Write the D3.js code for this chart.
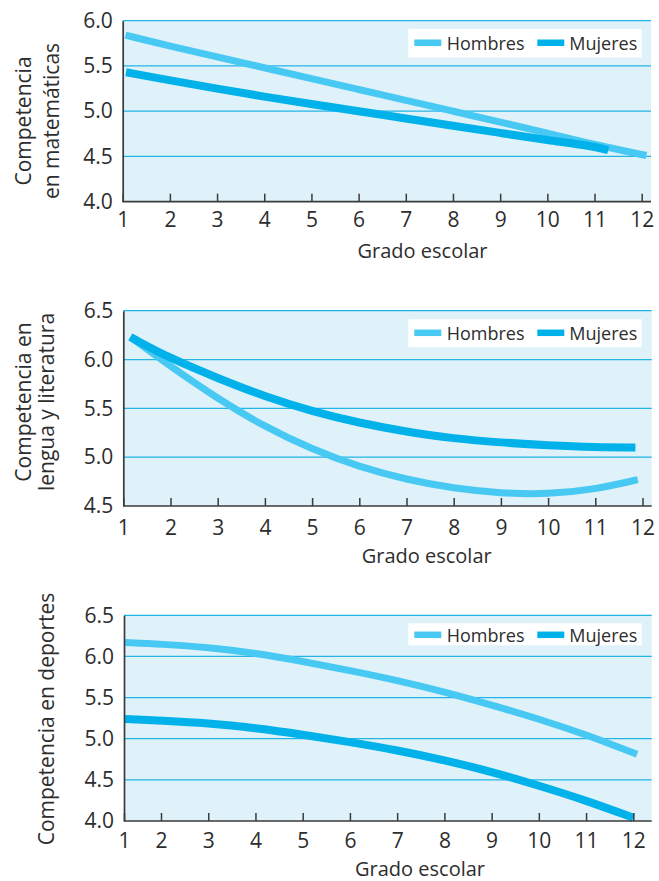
<!DOCTYPE html>
<html><head><meta charset="utf-8">
<script src="https://cdn.jsdelivr.net/npm/d3@7"></script>
<style>
html,body{margin:0;padding:0;background:#fff;}
svg{display:block;font-family:"Open Sans",sans-serif;}
</style></head><body>
<svg id="chart" width="659" height="881"></svg>
<script>
// ---------- DATA ----------
const grades = [1,2,3,4,5,6,7,8,9,10,11,12];
const seriesNames = ["Hombres","Mujeres"];
const xTitle = "Grado escolar";

// Panel 1: matemáticas
const mathTitle = ["Competencia","en matemáticas"];
const mathTicks = [4.0,4.5,5.0,5.5,6.0];
const mathHombresGrade = [1.06,2,3,4,5,6,7,8,9,10,11,12.1];
const mathHombres      = [5.84,5.72,5.60,5.48,5.36,5.24,5.12,5.00,4.88,4.76,4.63,4.51];
const mathMujeresGrade = [1.07,2,3,4,5,6,7,8,9,10,11,11.29];
const mathMujeres      = [5.43,5.34,5.25,5.16,5.08,5.00,4.92,4.84,4.76,4.68,4.61,4.57];

// Panel 2: lengua y literatura
const langTitle = ["Competencia en","lengua y literatura"];
const langTicks = [4.5,5.0,5.5,6.0,6.5];
const langHombresGrade = [1.15,2,3,4,5,6,7,8,9,10,11,11.9];
const langHombres      = [6.23,5.93,5.60,5.31,5.08,4.90,4.77,4.68,4.63,4.62,4.67,4.77];
const langMujeresGrade = [1.15,2,3,4,5,6,7,8,9,10,11,11.85];
const langMujeres      = [6.23,6.01,5.81,5.62,5.47,5.35,5.26,5.19,5.15,5.12,5.10,5.10];

// Panel 3: deportes
const sportTitle = ["Competencia en deportes"];
const sportTicks = [4.0,4.5,5.0,5.5,6.0,6.5];
const sportHombresGrade = [1.03,2,3,4,5,6,7,8,9,10,11,12.08];
const sportHombres      = [6.17,6.15,6.11,6.04,5.94,5.83,5.71,5.57,5.41,5.24,5.05,4.81];
const sportMujeresGrade = [1.03,2,3,4,5,6,7,8,9,10,11,12];
const sportMujeres      = [5.24,5.22,5.19,5.13,5.05,4.96,4.86,4.74,4.60,4.43,4.25,4.04];

// ---------- STYLE / LAYOUT ----------
const colors = {Hombres:"#48c9f3", Mujeres:"#00b1ea"};
const widths = {Hombres:7, Mujeres:8};
const textColor = "#2d2d2d";
const axisColor = "#3a3a3a";
const gridColor = "#22b5e6";
const bgColor = "#dff2fa";

const panels = [
  {title:mathTitle, ticks:mathTicks,
   series:[{name:"Hombres", gx:mathHombresGrade, v:mathHombres},{name:"Mujeres", gx:mathMujeresGrade, v:mathMujeres}],
   top:20.7, bottom:201.7, left:122.7, x12:641.7, right:651, legendTop:29, legendH:28.5,
   xPad:10.5, xTitleY:258.3, xTitleX:422.5, titleX:[30.5,59], titleY:121},
  {title:langTitle, ticks:langTicks,
   series:[{name:"Hombres", gx:langHombresGrade, v:langHombres},{name:"Mujeres", gx:langMujeresGrade, v:langMujeres}],
   top:310.7, bottom:506, left:123.3, x12:642.5, right:651.7, legendTop:319.3, legendH:28,
   xPad:14, xTitleY:563, xTitleX:426.7, titleX:[31,53.5], titleY:402},
  {title:sportTitle, ticks:sportTicks,
   series:[{name:"Hombres", gx:sportHombresGrade, v:sportHombres},{name:"Mujeres", gx:sportMujeresGrade, v:sportMujeres}],
   top:615.3, bottom:821, left:124, x2:161, x12:633.3, right:651.7, legendTop:623.3, legendH:22,
   xPad:12, xTitleY:875.5, xTitleX:420, titleX:[53.5], titleY:719}
];

const svg = d3.select("#chart");

panels.forEach(p => {
  const g = svg.append("g");
  const x = p.x2 !== undefined
    ? d3.scaleLinear().domain([1,2,12]).range([p.left,p.x2,p.x12])
    : d3.scaleLinear().domain([1,12]).range([p.left,p.x12]);
  const y = d3.scaleLinear().domain([p.ticks[0], p.ticks[p.ticks.length-1]]).range([p.bottom,p.top]);

  // background
  g.append("rect").attr("x",p.left).attr("y",p.top)
    .attr("width",p.right-p.left).attr("height",p.bottom-p.top).attr("fill",bgColor);

  // gridlines
  g.selectAll("line.grid").data(p.ticks.slice(1)).join("line")
    .attr("class","grid")
    .attr("x1",p.left).attr("x2",p.right)
    .attr("y1",d=>y(d)).attr("y2",d=>y(d))
    .attr("stroke",gridColor).attr("stroke-width",1.3);

  // lines
  const line = d3.line().x(d=>x(d[0])).y(d=>y(d[1])).curve(d3.curveBasis);
  p.series.forEach(s => {
    const pts = s.gx.map((gx,i)=>[gx, s.v[i]]);
    g.append("path").attr("d",line(pts)).attr("fill","none")
      .attr("stroke",colors[s.name]).attr("stroke-width",widths[s.name])
      .attr("stroke-linecap","butt").attr("stroke-linejoin","round");
  });

  // legend
  const lx = 408.3, lw = 233.4;
  const lg = g.append("g");
  lg.append("rect").attr("x",lx).attr("y",p.legendTop).attr("width",lw).attr("height",p.legendH).attr("fill","#fff");
  const cy = p.legendTop + p.legendH/2 + (p.legendH>25 ? -0.5 : 0.5);
  const offs = [{sw:6, tx:38.4},{sw:129, tx:161}];
  seriesNames.forEach((n,i)=>{
    lg.append("line").attr("x1",lx+offs[i].sw).attr("x2",lx+offs[i].sw+27)
      .attr("y1",cy).attr("y2",cy).attr("stroke",colors[n]).attr("stroke-width",6.5);
    lg.append("text").attr("x",lx+offs[i].tx).attr("y",cy+6.8)
      .attr("font-size",18).attr("fill",textColor).text(n);
  });

  // x axis
  const xa = g.append("g").attr("transform",`translate(0,${p.bottom})`)
    .call(d3.axisBottom(x).tickValues(grades).tickSize(-8).tickSizeOuter(0).tickPadding(p.xPad));
  xa.select(".domain").remove();
  xa.selectAll(".tick line").attr("stroke",axisColor).attr("stroke-width",1.5);
  xa.selectAll(".tick text").attr("font-size",21).attr("fill",textColor).attr("font-family","Open Sans, sans-serif");
  g.append("line").attr("x1",p.left).attr("x2",p.right).attr("y1",p.bottom).attr("y2",p.bottom)
    .attr("stroke",axisColor).attr("stroke-width",1.7);

  // y axis
  const ya = g.append("g").attr("transform",`translate(${p.left},0)`)
    .call(d3.axisLeft(y).tickValues(p.ticks).tickSize(0).tickSizeOuter(0).tickPadding(10).tickFormat(d3.format(".1f")));
  ya.select(".domain").attr("stroke",axisColor).attr("stroke-width",1.7);
  ya.selectAll(".tick text").attr("font-size",21).attr("fill",textColor).attr("font-family","Open Sans, sans-serif");

  // x title
  g.append("text").attr("x",p.xTitleX).attr("y",p.xTitleY).attr("text-anchor","middle")
    .attr("font-size",20).attr("fill",textColor).text(xTitle);

  // y title
  p.title.forEach((t,i)=>{
    g.append("text").attr("transform",`translate(${p.titleX[i]},${p.titleY}) rotate(-90)`)
      .attr("text-anchor","middle").attr("font-size",21).attr("fill",textColor).text(t);
  });
});
</script>
</body></html>
